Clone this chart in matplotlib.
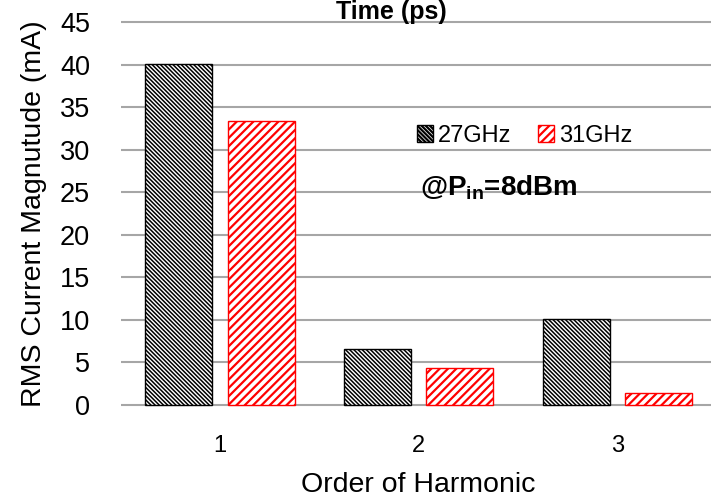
import matplotlib
matplotlib.use("Agg")
import matplotlib.pyplot as plt
import numpy as np

orders = [1, 2, 3]
rms_27ghz = [40.1, 6.6, 10.1]
rms_31ghz = [33.4, 4.3, 1.4]
series_labels = ["27GHz", "31GHz"]
y_ticks = [0, 5, 10, 15, 20, 25, 30, 35, 40, 45]

plt.rcParams['font.family'] = ["Liberation Sans", "DejaVu Sans"]
plt.rcParams['mathtext.fontset'] = 'custom'
plt.rcParams['mathtext.rm'] = 'Liberation Sans'
plt.rcParams['mathtext.bf'] = 'Liberation Sans:bold'

fig = plt.figure(figsize=(7.11, 5.01), dpi=100)
# axes runs a bit past the right edge, like the cropped original
ax = fig.add_axes([120.5 / 711, 1 - 407.55 / 501, 596.5 / 711, 388.1 / 501])

x = np.arange(len(orders)) + 1
w = 0.337
off = 0.207

plt.rcParams['hatch.linewidth'] = 1.1
ax.bar(x - off, rms_27ghz, w, color='white', edgecolor='black',
       hatch='\\' * 8, linewidth=1.0, label=series_labels[0], zorder=3)
plt.rcParams['hatch.linewidth'] = 1.6
ax.bar(x + off, rms_31ghz, w, color='white', edgecolor='red',
       hatch='/' * 4, linewidth=1.0, label=series_labels[1], zorder=3)

ax.set_xlim(0.5, 3.5)
ax.set_ylim(-0.3, 45.3)
ax.set_yticks(y_ticks)
ax.set_xticks(x)
ax.set_xticklabels([str(o) for o in orders])
for s in ax.spines.values():
    s.set_visible(False)
ax.yaxis.grid(True, color='#a6a6a6', linewidth=1.5, zorder=0)
ax.set_axisbelow(True)
ax.tick_params(axis='y', length=0, pad=22, labelsize=19.5)
ax.tick_params(axis='x', length=0, pad=20, labelsize=17)

ax.set_xlabel("Order of Harmonic", fontsize=20.5)
ax.xaxis.set_label_coords(0.4988, -0.2175)
ax.xaxis.label.set_va('baseline')
ax.set_ylabel("RMS Current Magnutude (mA)", fontsize=20.5)
ax.yaxis.set_label_coords(-0.145, 0.5)
ax.yaxis.label.set_va('center')

ax.legend(loc='center left', bbox_to_anchor=(0.497, 0.70), ncol=2, frameon=False,
          fontsize=17, handlelength=0.7, handleheight=0.7, handletextpad=0.2,
          columnspacing=1.1, borderpad=0, borderaxespad=0)

ax.text(2.006, 24.67, r"@P$_{\mathbf{in}}$=8dBm", fontsize=20, fontweight='bold',
        va='baseline')

fig.text(391 / 711, 1 - 19 / 501, "Time (ps)", ha='center', va='baseline',
         fontsize=18, fontweight='bold')

fig.savefig("out.png", dpi=100)
